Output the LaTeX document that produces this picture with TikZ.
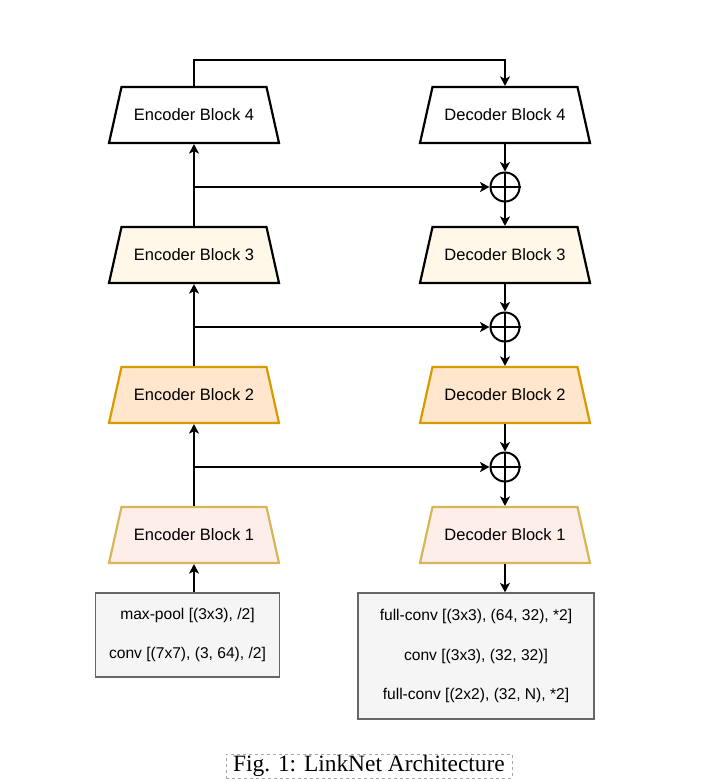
\documentclass[tikz,border=0pt]{standalone}
\usepackage{fontspec}
\setmainfont{Liberation Sans}
\newfontfamily\capfont{Liberation Serif}
\usetikzlibrary{arrows.meta}
\definecolor{creamfill}{HTML}{FFF8E9}
\definecolor{orangefill}{HTML}{FFE6CC}
\definecolor{orangeline}{HTML}{D79B00}
\definecolor{pinkfill}{HTML}{FDEEEA}
\definecolor{goldline}{HTML}{D6B656}
\definecolor{boxfill}{HTML}{F5F5F5}
\definecolor{boxline}{HTML}{666666}
\tikzset{
  blockarea/.style={rectangle, minimum width=170pt, minimum height=56pt,
    inner sep=0pt, outer sep=1.1pt, font=\fontsize{16.5}{19}\selectfont},
  trapline/.style={line width=2.2pt, line join=miter},
  lvl4/.style={trapline, draw=black, fill=white},
  lvl3/.style={trapline, draw=black, fill=creamfill},
  lvl2/.style={trapline, draw=orangeline, fill=orangefill},
  lvl1/.style={trapline, draw=goldline, fill=pinkfill},
  plusnode/.style={circle, draw=black, line width=2pt, minimum size=29pt, inner sep=0pt},
  layerbox/.style={rectangle, draw=boxline, fill=boxfill, line width=1.3pt,
    align=center, inner sep=0pt, font=\fontsize{15.6}{39.5}\selectfont},
  conn/.style={line width=1.3pt, -{Stealth[length=9.5pt,width=10pt,inset=2.5pt]}},
}
\newcommand\trapblock[4]{% name, style, position, text
  \path[#2] ([xshift=-85pt,yshift=-28pt]#3) -- ([xshift=-72.5pt,yshift=28pt]#3)
    -- ([xshift=72.5pt,yshift=28pt]#3) -- ([xshift=85pt,yshift=-28pt]#3) -- cycle;
  \node[blockarea] (#1) at (#3) {#4};
}
\begin{document}
\begin{tikzpicture}[x=1pt,y=-1pt]
\useasboundingbox (0,0) rectangle (710,782);
% encoder column
\trapblock{e4}{lvl4}{194,115}{Encoder Block 4}
\trapblock{e3}{lvl3}{194,255}{Encoder Block 3}
\trapblock{e2}{lvl2}{194,395}{Encoder Block 2}
\trapblock{e1}{lvl1}{194,535}{Encoder Block 1}
% decoder column
\trapblock{d4}{lvl4}{505,115}{Decoder Block 4}
\trapblock{d3}{lvl3}{505,255}{Decoder Block 3}
\trapblock{d2}{lvl2}{505,395}{Decoder Block 2}
\trapblock{d1}{lvl1}{505,535}{Decoder Block 1}
% adders
\node[plusnode] (p3) at (505,187) {};
\node[plusnode] (p2) at (505,327) {};
\node[plusnode] (p1) at (505,467) {};
\foreach \p in {p1,p2,p3}{
  \draw[line width=2pt] (\p.north) -- (\p.south) (\p.west) -- (\p.east);
}
% boxes
\node[layerbox, minimum width=183.6pt, minimum height=84pt] (lb) at (187.5,635)
  {max-pool [(3x3), /2]\\conv [(7x7), (3, 64), /2]};
\node[layerbox, minimum width=236pt, minimum height=126pt] (rb) at (476,656)
  {full-conv [(3x3), (64, 32), *2]\\conv [(3x3), (32, 32)]\\full-conv [(2x2), (32, N), *2]};
% connectors
\coordinate (topturn) at (350,60);
\draw[conn] (e4.north) |- (topturn) -| (d4.north);
\draw[conn] (e1.south |- lb.north) -- (e1.south);
\draw[conn] (e1.north) -- (e2.south);
\draw[conn] (e2.north) -- (e3.south);
\draw[conn] (e3.north) -- (e4.south);
\draw[conn] (e4.south |- p3) -- (p3.west);
\draw[conn] (e4.south |- p2) -- (p2.west);
\draw[conn] (e4.south |- p1) -- (p1.west);
\draw[conn] (d4.south) -- (p3.north);
\draw[conn] (p3.south) -- (d3.north);
\draw[conn] (d3.south) -- (p2.north);
\draw[conn] (p2.south) -- (d2.north);
\draw[conn] (d2.south) -- (p1.north);
\draw[conn] (p1.south) -- (d1.north);
\draw[conn] (d1.south) -- (d1.south |- rb.north);
% caption
\node[draw=gray!70, dashed, line width=0.8pt, minimum width=286pt, minimum height=24pt,
  inner sep=0pt, font=\capfont\fontsize{23.4}{26}\selectfont] (cap) at (369,766)
  {Fig. 1: LinkNet Architecture};
\end{tikzpicture}
\end{document}
